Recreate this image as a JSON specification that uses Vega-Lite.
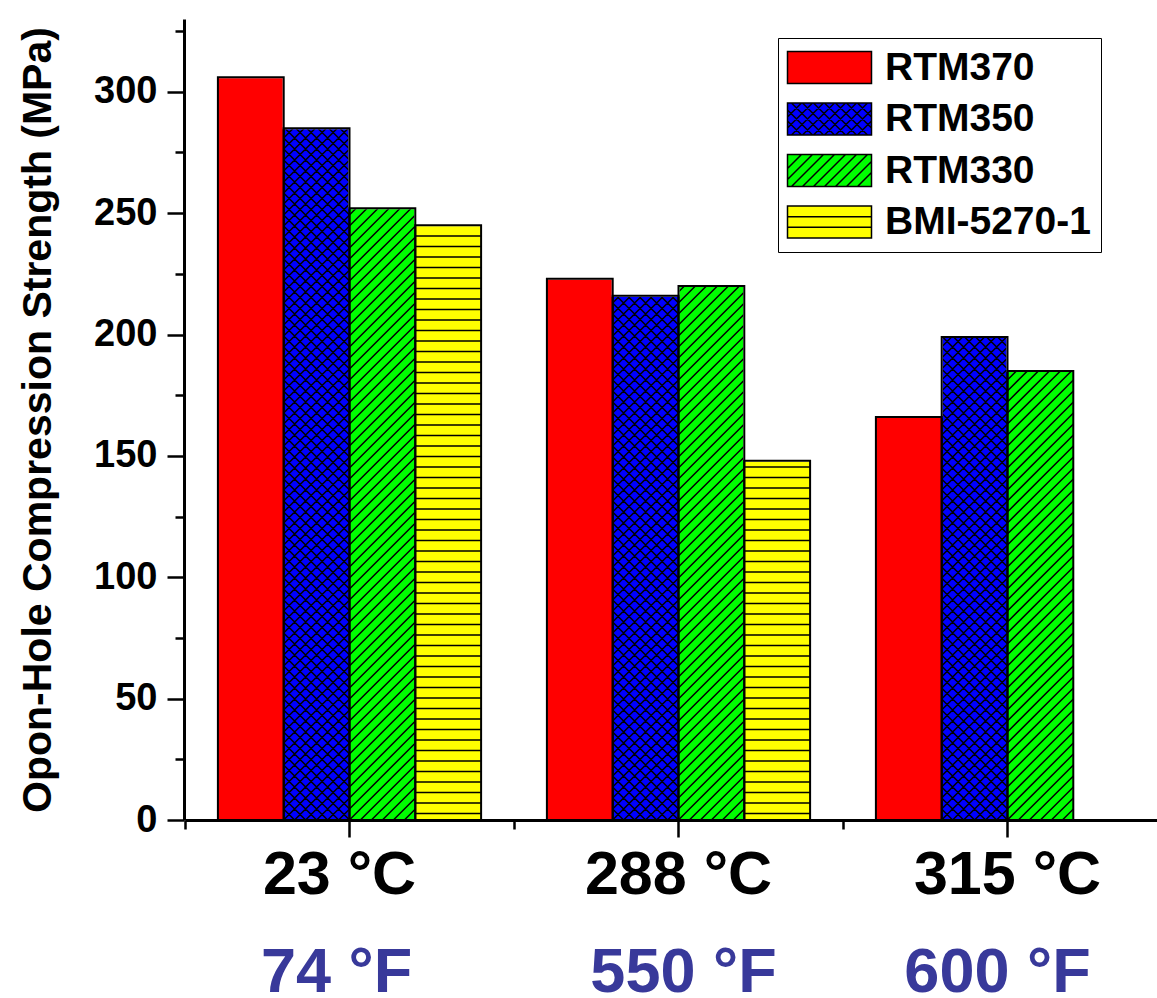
{
  "$schema": "https://vega.github.io/schema/vega-lite/v6.json",
  "width": 973,
  "height": 801,
  "autosize": {"type": "none"},
  "padding": {"left": 184, "top": 19, "right": 0, "bottom": 178},
  "background": "white",
  "config": {"view": {"stroke": null}, "font": "Liberation Sans"},
  "data": {
    "values": [
      {"temp": "23 °C", "series": "RTM370", "value": 306},
      {"temp": "23 °C", "series": "RTM350", "value": 285},
      {"temp": "23 °C", "series": "RTM330", "value": 252},
      {"temp": "23 °C", "series": "BMI-5270-1", "value": 245},
      {"temp": "288 °C", "series": "RTM370", "value": 223},
      {"temp": "288 °C", "series": "RTM350", "value": 216},
      {"temp": "288 °C", "series": "RTM330", "value": 220},
      {"temp": "288 °C", "series": "BMI-5270-1", "value": 148},
      {"temp": "315 °C", "series": "RTM370", "value": 166},
      {"temp": "315 °C", "series": "RTM350", "value": 199},
      {"temp": "315 °C", "series": "RTM330", "value": 185}
    ]
  },
  "resolve": {"axis": {"x": "independent", "y": "independent"}},
  "layer": [
    {
      "mark": {"type": "bar"},
      "encoding": {
        "x": {
          "field": "temp", "type": "nominal",
          "scale": {"domain": ["23 °C", "288 °C", "315 °C"], "range": [1, 988], "paddingInner": 0, "paddingOuter": 0},
          "axis": {
            "orient": "bottom", "title": null, "labelAngle": 0, "labelLimit": 500,
            "labelOffset": {"condition": {"test": "datum.value === '23 °C'", "value": -10}, "value": 0},
            "labelFontSize": 61, "labelFontWeight": "bold", "labelColor": "black", "labelPadding": 8,
            "tickSize": 17, "tickWidth": 2.5, "tickColor": "black",
            "domainColor": "black", "domainWidth": 3
          }
        },
        "xOffset": {
          "field": "series", "type": "nominal",
          "scale": {"domain": ["RTM370", "RTM350", "RTM330", "BMI-5270-1"], "paddingInner": 0, "paddingOuter": 0.5}
        },
        "y": {
          "field": "value", "type": "quantitative", "stack": null,
          "scale": {"domain": [0, 330], "nice": false},
          "axis": {
            "orient": "left", "values": [0, 50, 100, 150, 200, 250, 300], "grid": false,
            "title": "Opon-Hole Compression Strength (MPa)", "titleFontSize": 41, "titleFontWeight": "bold",
            "titleColor": "black", "titlePadding": 34, "titleLimit": 2000,
            "labelFontSize": 38, "labelFontWeight": "bold", "labelColor": "black", "labelPadding": 10,
            "tickSize": 17, "tickWidth": 2.5, "tickColor": "black",
            "domainColor": "black", "domainWidth": 3
          }
        },
        "color": {
          "field": "series", "type": "nominal",
          "scale": {"domain": ["RTM370", "RTM350", "RTM330", "BMI-5270-1"], "range": ["#ff0000", "#0000ff", "#00ff00", "#ffff00"]},
          "legend": {
            "orient": "none", "legendX": 594, "legendY": 19, "title": null,
            "padding": 10, "strokeColor": "black", "fillColor": "white",
            "labelFontSize": 39, "labelFontWeight": "bold", "labelColor": "black", "labelLimit": 400,
            "symbolSize": 4, "rowPadding": 11.5, "labelOffset": 58, "symbolOffset": 0,
            "symbolStrokeColor": "black", "symbolStrokeWidth": 1.5,
            "symbolType": {"expr": "datum.value === 'RTM350' ? 'M-20 -16h84v32h-84zM-20 -2l14 -14M-20 9l25 -25M-16 16l32 -32M-5 16l32 -32M6 16l32 -32M17 16l32 -32M28 16l32 -32M39 16l25 -25M50 16l14 -14M64 -2l-14 -14M64 9l-25 -25M60 16l-32 -32M49 16l-32 -32M38 16l-32 -32M27 16l-32 -32M16 16l-32 -32M5 16l-25 -25M-6 16l-14 -14' : datum.value === 'RTM330' ? 'M-20 -16h84v32h-84zM-20 -2l14 -14M-20 9l25 -25M-16 16l32 -32M-5 16l32 -32M6 16l32 -32M17 16l32 -32M28 16l32 -32M39 16l25 -25M50 16l14 -14' : datum.value === 'BMI-5270-1' ? 'M-20 -16h84v32h-84zM-20 -5.3h84M-20 5.3h84' : 'M-20 -16h84v32h-84z'"}
          }
        }
      }
    },
    {
      "transform": [{"filter": "datum.series !== 'RTM370'"}],
      "mark": {"type": "point", "filled": false, "stroke": "black", "strokeWidth": 1.5, "size": 4, "opacity": 1, "strokeCap": "butt"},
      "encoding": {
        "x": {
          "field": "temp", "type": "nominal",
          "axis": {
            "orient": "bottom", "title": null, "labels": false, "domain": false, "grid": false,
            "tickBand": "extent", "tickSize": 9, "tickWidth": 2.5, "tickColor": "black"
          }
        },
        "xOffset": {"field": "series", "type": "nominal"},
        "y": {"datum": 0, "type": "quantitative", "axis": null},
        "shape": {
          "field": "series", "type": "nominal", "legend": null,
          "scale": {
            "domain": ["RTM350", "RTM330", "BMI-5270-1"],
            "range": [
              "M22 0l11 -11M11 0l22 -22M0 0l33 -33M-11 0l44 -44M-22 0l55 -55M-33 0l66 -66M-33 -11l66 -66M-33 -22l66 -66M-33 -33l66 -66M-33 -44l66 -66M-33 -55l66 -66M-33 -66l66 -66M-33 -77l66 -66M-33 -88l66 -66M-33 -99l66 -66M-33 -110l66 -66M-33 -121l66 -66M-33 -132l66 -66M-33 -143l66 -66M-33 -154l66 -66M-33 -165l66 -66M-33 -176l66 -66M-33 -187l66 -66M-33 -198l66 -66M-33 -209l66 -66M-33 -220l66 -66M-33 -231l66 -66M-33 -242l66 -66M-33 -253l66 -66M-33 -264l66 -66M-33 -275l66 -66M-33 -286l66 -66M-33 -297l66 -66M-33 -308l66 -66M-33 -319l66 -66M-33 -330l66 -66M-33 -341l66 -66M-33 -352l66 -66M-33 -363l66 -66M-33 -374l66 -66M-33 -385l66 -66M-33 -396l66 -66M-33 -407l66 -66M-33 -418l66 -66M-33 -429l66 -66M-33 -440l66 -66M-33 -451l66 -66M-33 -462l66 -66M-33 -473l66 -66M-33 -484l66 -66M-33 -495l66 -66M-33 -506l66 -66M-33 -517l66 -66M-33 -528l66 -66M-33 -539l66 -66M-33 -550l66 -66M-33 -561l66 -66M-33 -572l66 -66M-33 -583l66 -66M-33 -594l66 -66M-33 -605l66 -66M-33 -616l66 -66M-33 -627l66 -66M-33 -638l66 -66M-33 -649l66 -66M-33 -660l66 -66M-33 -671l66 -66M-33 -682l66 -66M-22 0l-11 -11M-11 0l-22 -22M0 0l-33 -33M11 0l-44 -44M22 0l-55 -55M33 0l-66 -66M33 -11l-66 -66M33 -22l-66 -66M33 -33l-66 -66M33 -44l-66 -66M33 -55l-66 -66M33 -66l-66 -66M33 -77l-66 -66M33 -88l-66 -66M33 -99l-66 -66M33 -110l-66 -66M33 -121l-66 -66M33 -132l-66 -66M33 -143l-66 -66M33 -154l-66 -66M33 -165l-66 -66M33 -176l-66 -66M33 -187l-66 -66M33 -198l-66 -66M33 -209l-66 -66M33 -220l-66 -66M33 -231l-66 -66M33 -242l-66 -66M33 -253l-66 -66M33 -264l-66 -66M33 -275l-66 -66M33 -286l-66 -66M33 -297l-66 -66M33 -308l-66 -66M33 -319l-66 -66M33 -330l-66 -66M33 -341l-66 -66M33 -352l-66 -66M33 -363l-66 -66M33 -374l-66 -66M33 -385l-66 -66M33 -396l-66 -66M33 -407l-66 -66M33 -418l-66 -66M33 -429l-66 -66M33 -440l-66 -66M33 -451l-66 -66M33 -462l-66 -66M33 -473l-66 -66M33 -484l-66 -66M33 -495l-66 -66M33 -506l-66 -66M33 -517l-66 -66M33 -528l-66 -66M33 -539l-66 -66M33 -550l-66 -66M33 -561l-66 -66M33 -572l-66 -66M33 -583l-66 -66M33 -594l-66 -66M33 -605l-66 -66M33 -616l-66 -66M33 -627l-66 -66M33 -638l-66 -66M33 -649l-66 -66M33 -660l-66 -66M33 -671l-66 -66M33 -682l-66 -66",
              "M22 0l11 -11M11 0l22 -22M0 0l33 -33M-11 0l44 -44M-22 0l55 -55M-33 0l66 -66M-33 -11l66 -66M-33 -22l66 -66M-33 -33l66 -66M-33 -44l66 -66M-33 -55l66 -66M-33 -66l66 -66M-33 -77l66 -66M-33 -88l66 -66M-33 -99l66 -66M-33 -110l66 -66M-33 -121l66 -66M-33 -132l66 -66M-33 -143l66 -66M-33 -154l66 -66M-33 -165l66 -66M-33 -176l66 -66M-33 -187l66 -66M-33 -198l66 -66M-33 -209l66 -66M-33 -220l66 -66M-33 -231l66 -66M-33 -242l66 -66M-33 -253l66 -66M-33 -264l66 -66M-33 -275l66 -66M-33 -286l66 -66M-33 -297l66 -66M-33 -308l66 -66M-33 -319l66 -66M-33 -330l66 -66M-33 -341l66 -66M-33 -352l66 -66M-33 -363l66 -66M-33 -374l66 -66M-33 -385l66 -66M-33 -396l66 -66M-33 -407l66 -66M-33 -418l66 -66M-33 -429l66 -66M-33 -440l66 -66M-33 -451l66 -66M-33 -462l66 -66M-33 -473l66 -66M-33 -484l66 -66M-33 -495l66 -66M-33 -506l66 -66M-33 -517l66 -66M-33 -528l66 -66M-33 -539l66 -66M-33 -550l66 -66M-33 -561l66 -66M-33 -572l66 -66M-33 -583l66 -66M-33 -594l66 -66M-33 -605l66 -66",
              "M-33 -6.5h66M-33 -17h66M-33 -27.5h66M-33 -38h66M-33 -48.5h66M-33 -59h66M-33 -69.5h66M-33 -80h66M-33 -90.5h66M-33 -101h66M-33 -111.5h66M-33 -122h66M-33 -132.5h66M-33 -143h66M-33 -153.5h66M-33 -164h66M-33 -174.5h66M-33 -185h66M-33 -195.5h66M-33 -206h66M-33 -216.5h66M-33 -227h66M-33 -237.5h66M-33 -248h66M-33 -258.5h66M-33 -269h66M-33 -279.5h66M-33 -290h66M-33 -300.5h66M-33 -311h66M-33 -321.5h66M-33 -332h66M-33 -342.5h66M-33 -353h66M-33 -363.5h66M-33 -374h66M-33 -384.5h66M-33 -395h66M-33 -405.5h66M-33 -416h66M-33 -426.5h66M-33 -437h66M-33 -447.5h66M-33 -458h66M-33 -468.5h66M-33 -479h66M-33 -489.5h66M-33 -500h66M-33 -510.5h66M-33 -521h66M-33 -531.5h66M-33 -542h66M-33 -552.5h66M-33 -563h66M-33 -573.5h66M-33 -584h66"
            ]
          }
        }
      }
    },
    {
      "mark": {"type": "bar", "fill": "white", "stroke": "white", "strokeWidth": 2},
      "encoding": {
        "x": {
          "field": "temp", "type": "nominal",
          "axis": {
            "orient": "bottom", "title": null, "labelAngle": 0, "domain": false, "ticks": false, "tickSize": 0, "grid": false,
            "labelLimit": 500,
            "labelExpr": "datum.value === '23 °C' ? '74 °F' : datum.value === '288 °C' ? '550 °F' : '600 °F'",
            "labelOffset": {"condition": [{"test": "datum.value === '23 °C'", "value": -13}, {"test": "datum.value === '288 °C'", "value": 5}], "value": -10},
            "labelFontSize": 63, "labelFontWeight": "bold", "labelColor": "#38399a", "labelPadding": 121
          }
        },
        "xOffset": {"field": "series", "type": "nominal"},
        "y": {
          "field": "value", "type": "quantitative", "stack": null,
          "axis": {
            "orient": "left", "values": [25, 75, 125, 175, 225, 275, 325], "grid": false, "title": null,
            "labels": false, "domain": false, "tickSize": 9, "tickWidth": 2.5, "tickColor": "black"
          }
        },
        "y2": {"datum": 330}
      }
    },
    {
      "mark": {"type": "bar", "fill": "transparent", "stroke": "black", "strokeWidth": 2},
      "encoding": {
        "x": {"field": "temp", "type": "nominal", "axis": null},
        "xOffset": {"field": "series", "type": "nominal"},
        "y": {"field": "value", "type": "quantitative", "stack": null, "axis": null}
      }
    }
  ]
}
